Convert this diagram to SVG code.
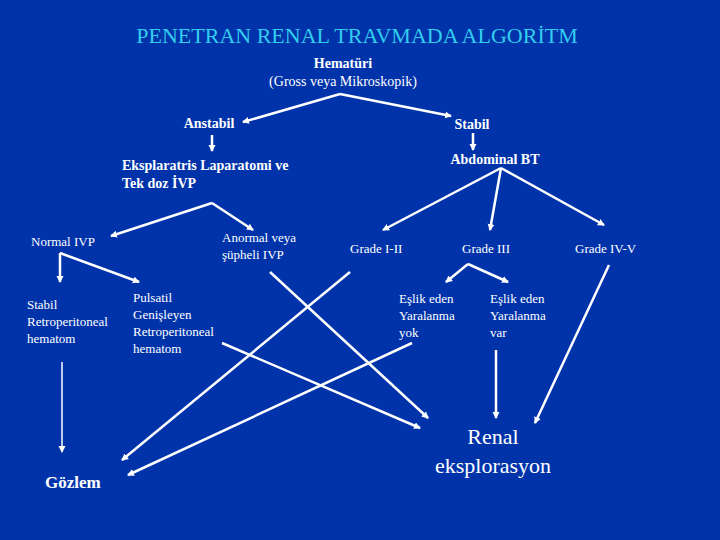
<svg xmlns="http://www.w3.org/2000/svg" width="720" height="540" viewBox="0 0 720 540" font-family="'Times New Roman', 'Liberation Serif', 'DejaVu Serif', serif">
<style>
text{font-family:'Times New Roman','Liberation Serif','DejaVu Serif',serif;fill:#fff;font-size:13px}
.b{font-weight:bold;font-size:14px}
.m{font-size:14px}
.t{fill:#33ccee;font-size:22px}
.r{font-size:22px}
.g{font-weight:bold;font-size:17px}
line{stroke:#fff;stroke-width:2.5}
.a{marker-end:url(#ah)}
</style>
<defs><marker id="ah" markerWidth="8" markerHeight="8" refX="6" refY="4" orient="auto" markerUnits="userSpaceOnUse"><path d="M0,0.5 L7,4 L0,7.5z" fill="#fff"/></marker></defs>
<rect width="720" height="540" fill="#0033aa"/>
<text class="t" x="357" y="43" text-anchor="middle">PENETRAN RENAL TRAVMADA ALGORİTM</text>
<g id="hematuri"><text class="b" x="343" y="68" text-anchor="middle">Hematüri</text><text class="m" x="343" y="86" text-anchor="middle">(Gross veya Mikroskopik)</text></g>
<g id="anstabil"><text class="b" x="209" y="128" text-anchor="middle">Anstabil</text></g>
<g id="stabil"><text class="b" x="472" y="129" text-anchor="middle">Stabil</text></g>
<g id="abdominal"><text class="b" x="495" y="164" text-anchor="middle">Abdominal BT</text></g>
<g id="eksplaratris"><text class="b" x="122" y="170">Eksplaratris Laparatomi ve</text><text class="b" x="122" y="188">Tek doz İVP</text></g>
<g id="normal"><text x="31" y="246">Normal IVP</text></g>
<g id="anormal"><text x="222" y="242">Anormal veya</text><text x="222" y="259">şüpheli IVP</text></g>
<g id="g12"><text x="350" y="253">Grade I-II</text></g>
<g id="g3"><text x="462" y="253">Grade III</text></g>
<g id="g45"><text x="575" y="253">Grade IV-V</text></g>
<g id="stabilretro"><text x="27" y="309">Stabil</text><text x="27" y="326">Retroperitoneal</text><text x="27" y="343">hematom</text></g>
<g id="pulsatil"><text x="133" y="302">Pulsatil</text><text x="133" y="319">Genişleyen</text><text x="133" y="336">Retroperitoneal</text><text x="133" y="353">hematom</text></g>
<g id="yok"><text x="399" y="303">Eşlik eden</text><text x="399" y="320">Yaralanma</text><text x="399" y="337">yok</text></g>
<g id="var"><text x="490" y="303">Eşlik eden</text><text x="490" y="320">Yaralanma</text><text x="490" y="337">var</text></g>
<g id="renal"><text class="r" x="493" y="444" text-anchor="middle">Renal</text><text class="r" x="493" y="473" text-anchor="middle">eksplorasyon</text></g>
<g id="gozlem"><text class="g" x="45" y="488">Gözlem</text></g>
<g id="connectors">
<line class="a" x1="340" y1="94" x2="243" y2="122"/>
<line class="a" x1="340" y1="94" x2="451" y2="116"/>
<line class="a" x1="212" y1="135" x2="212" y2="151"/>
<line class="a" x1="473" y1="133" x2="473" y2="150"/>
<line class="a" x1="212" y1="203" x2="111" y2="236"/>
<line class="a" x1="212" y1="203" x2="253" y2="230"/>
<line class="a" x1="501" y1="168" x2="383" y2="230"/>
<line class="a" x1="501" y1="168" x2="490" y2="230"/>
<line class="a" x1="501" y1="168" x2="604" y2="225"/>
<line class="a" x1="60" y1="253" x2="60" y2="282"/>
<line class="a" x1="60" y1="253" x2="139" y2="282"/>
<line class="a" x1="468" y1="264" x2="446" y2="282"/>
<line class="a" x1="468" y1="264" x2="508" y2="282"/>
<line class="a" x1="62" y1="362" x2="62" y2="452" style="stroke-width:1.5"/>
<line class="a" x1="222" y1="343" x2="420" y2="428"/>
<line class="a" x1="270" y1="272" x2="428" y2="418"/>
<line class="a" x1="350" y1="272" x2="122" y2="460"/>
<line class="a" x1="412" y1="343" x2="128" y2="475"/>
<line class="a" x1="496" y1="350" x2="496" y2="418"/>
<line class="a" x1="609" y1="265" x2="535" y2="423"/>
</g>
</svg>
